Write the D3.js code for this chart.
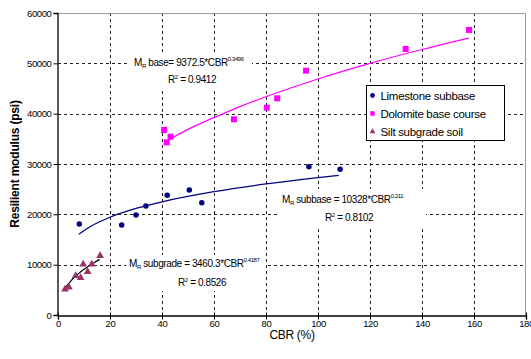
<!DOCTYPE html>
<meta charset="utf-8">
<html>
<head>
<style>
  body { margin: 0; background: #fff; }
  text { font-family: "Liberation Sans", Arial, sans-serif; fill: #000; }
  .tick text { font-size: 9.5px; letter-spacing: -0.4px; }
  .grid line { stroke: #222; stroke-dasharray: 3,3; stroke-width: 1; }
  .eq { font-size: 10px; letter-spacing: -0.4px; }
</style>
<script src="https://cdn.jsdelivr.net/npm/d3@7"></script>
</head>
<body>
<div id="chart"></div>
<script>
// data
var limeX = [8.2, 24.5, 30, 33.8, 42, 50.5, 55.3, 96.5, 108.5];
var limeY = [18080, 17880, 19870, 21660, 23780, 24840, 22320, 29470, 28950];
var doloX = [40.8, 41.8, 43.3, 67.7, 80.3, 84.3, 95.4, 133.7, 158.1];
var doloY = [36760, 34300, 35430, 38880, 41200, 43050, 48540, 52850, 56630];
var siltX = [2.7, 4.2, 6.8, 8.7, 9.7, 11.4, 13, 16.2];
var siltY = [5100, 5500, 7810, 7420, 10070, 8600, 10070, 11790];

// trendlines as drawn (power fits)
var doloFitX = [41, 50, 60, 70, 80, 100, 120, 140, 158];
var doloFitY = [34330, 36880, 39220, 41400, 43370, 46890, 49980, 52740, 55020];
var limeFitX = [8, 12, 15, 20, 30, 40, 60, 80, 100, 108];
var limeFitY = [16020, 17450, 18290, 19430, 21170, 22490, 24500, 26040, 27290, 27740];
var siltFitX = [2.7, 4, 5, 6, 8, 10, 12, 14, 16];
var siltFitY = [5245, 6170, 6790, 7350, 8265, 9074, 9794, 10447, 11048];

var xTicks = [0, 20, 40, 60, 80, 100, 120, 140, 160, 180];
var yTicks = [0, 10000, 20000, 30000, 40000, 50000, 60000];

var width = 531, height = 359;
var margin = { top: 13, right: 5, bottom: 44, left: 58 };

var svg = d3.select("#chart").append("svg")
    .attr("width", width).attr("height", height);

var x = d3.scaleLinear().domain([0, 180]).range([margin.left, width - margin.right]);
var y = d3.scaleLinear().domain([0, 60000]).range([height - margin.bottom, margin.top]);

// gridlines
var grid = svg.append("g").attr("class", "grid");
grid.selectAll(".vx").data(xTicks.slice(1, -1)).enter().append("line")
    .attr("x1", function(d) { return Math.round(x(d)) + 0.5; })
    .attr("x2", function(d) { return Math.round(x(d)) + 0.5; })
    .attr("y1", y(60000)).attr("y2", y(0));
grid.selectAll(".hy").data(yTicks.slice(1, -1)).enter().append("line")
    .attr("y1", function(d) { return Math.round(y(d)) + 0.5; })
    .attr("y2", function(d) { return Math.round(y(d)) + 0.5; })
    .attr("x1", x(0)).attr("x2", x(180));

// plot frame top/right
svg.append("path")
    .attr("d", "M" + x(0) + "," + (y(60000) + 0.5) + "H" + (x(180) - 0.5) + "V" + y(0))
    .attr("fill", "none").attr("stroke", "#999");

// equation label backgrounds
var boxes = [[130, 53, 122, 35], [278, 189, 148, 38], [126, 255, 140, 36]];
svg.selectAll(".bg").data(boxes).enter().append("rect")
    .attr("x", function(d) { return d[0]; }).attr("y", function(d) { return d[1]; })
    .attr("width", function(d) { return d[2]; }).attr("height", function(d) { return d[3]; })
    .attr("fill", "#fff");

// axes
var xAxis = d3.axisBottom(x).tickValues(xTicks).tickSize(4).tickFormat(d3.format("d"));
var gx = svg.append("g").attr("class", "axis")
    .attr("transform", "translate(0," + (y(0) + 0.5) + ")").call(xAxis);
gx.selectAll(".tick line").attr("y1", -3);
gx.selectAll(".tick text").attr("dy", null).attr("y", 11);

var yAxis = d3.axisLeft(y).tickValues(yTicks).tickSize(4).tickFormat(d3.format("d"));
var gy = svg.append("g").attr("class", "axis")
    .attr("transform", "translate(" + (x(0) - 0.5) + ",0)").call(yAxis);
gy.selectAll(".tick text").attr("x", -6);
svg.selectAll(".axis .domain").attr("stroke", "#000").attr("stroke-width", 1.3);

// axis titles
svg.append("text").attr("x", (x(0) + x(180)) / 2).attr("y", 339)
    .attr("text-anchor", "middle").style("font-size", "12px").style("letter-spacing", "-0.3px")
    .text("CBR (%)");
svg.append("text").attr("transform", "translate(19," + ((y(0) + y(60000)) / 2) + ") rotate(-90)")
    .attr("text-anchor", "middle").style("font-size", "12px").style("font-weight", "bold")
    .style("letter-spacing", "-0.2px")
    .text("Resilient modulus (psi)");

// trendlines
var line = d3.line().x(function(d) { return x(d[0]); }).y(function(d) { return y(d[1]); }).curve(d3.curveMonotoneX);
function fit(xs, ys, color) {
  svg.append("path").datum(d3.zip(xs, ys)).attr("d", line)
      .attr("fill", "none").attr("stroke", color).attr("stroke-width", 1.2);
}
fit(doloFitX, doloFitY, "#ff00ff");
fit(limeFitX, limeFitY, "#000080");
fit(siltFitX, siltFitY, "#000");

// markers
var sq = d3.symbol().type(d3.symbolSquare).size(36);
var ci = d3.symbol().type(d3.symbolCircle).size(24);
var tr = d3.symbol().type(d3.symbolTriangle).size(26);
function pts(xs, ys, sym, color) {
  svg.append("g").selectAll("path").data(d3.zip(xs, ys)).enter().append("path")
      .attr("d", sym)
      .attr("transform", function(d) { return "translate(" + x(d[0]) + "," + y(d[1]) + ")"; })
      .attr("fill", color);
}
pts(limeX, limeY, ci, "#000080");
pts(doloX, doloY, sq, "#ff00ff");
pts(siltX, siltY, tr, "#993366");

// equations
function eq(xp, yp, sub, rest, sup) {
  var t = svg.append("text").attr("class", "eq").attr("x", xp).attr("y", yp);
  t.append("tspan").text("M");
  t.append("tspan").attr("dy", 2).style("font-size", "6px").text("R");
  t.append("tspan").attr("dy", -2).text(" " + sub + rest);
  t.append("tspan").attr("dy", -5).style("font-size", "6px").text(sup);
}
eq(134, 66, "base", "= 9372.5*CBR", "0.3496");
svg.append("text").attr("class", "eq").attr("x", 168).attr("y", 83).html("R<tspan dy='-4' font-size='6px'>2</tspan><tspan dy='4'> = 0.9412</tspan>");
eq(282, 203, "subbase", " = 10328*CBR", "0.211");
svg.append("text").attr("class", "eq").attr("x", 325).attr("y", 221).html("R<tspan dy='-4' font-size='6px'>2</tspan><tspan dy='4'> = 0.8102</tspan>");
eq(129, 267, "subgrade", " = 3460.3*CBR", "0.4187");
svg.append("text").attr("class", "eq").attr("x", 178).attr("y", 286).html("R<tspan dy='-4' font-size='6px'>2</tspan><tspan dy='4'> = 0.8526</tspan>");

// legend
var names = ["Limestone subbase", "Dolomite base course", "Silt subgrade soil"];
var syms = [d3.symbol().type(d3.symbolCircle).size(18), d3.symbol().type(d3.symbolSquare).size(20), d3.symbol().type(d3.symbolTriangle).size(14)];
var cols = ["#000080", "#ff00ff", "#993366"];
var lg = svg.append("g").attr("transform", "translate(366.5,85.5)");
lg.append("rect").attr("width", 138).attr("height", 55).attr("fill", "#fff").attr("stroke", "#000");
var items = lg.selectAll(".item").data(names).enter().append("g")
    .attr("transform", function(d, i) { return "translate(0," + (10 + i * 18) + ")"; });
items.append("path").attr("d", function(d, i) { return syms[i](); })
    .attr("transform", "translate(6,0)").attr("fill", function(d, i) { return cols[i]; });
items.append("text").attr("x", 14).attr("y", 4).style("font-size", "11.5px").style("letter-spacing", "-0.3px")
    .text(function(d) { return d; });
</script>
</body>
</html>
